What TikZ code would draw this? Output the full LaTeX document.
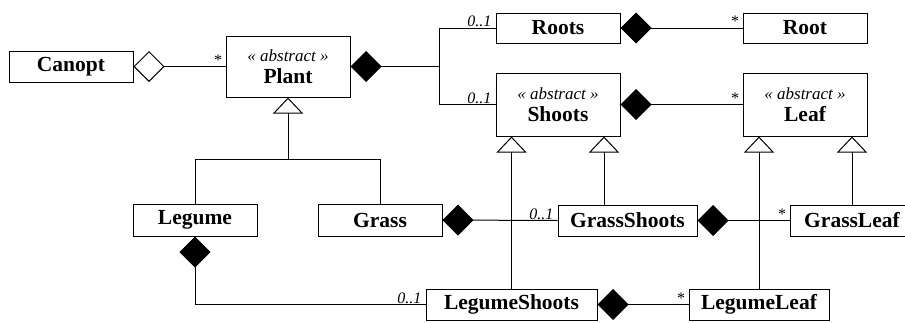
\documentclass[tikz,border=0pt]{standalone}
\usepackage{fontspec}
\setmainfont{Liberation Serif}
\usetikzlibrary{arrows.meta,calc}
\newcommand\clsname{\fontsize{21.5}{22}\selectfont\bfseries}
\newcommand\stereo{\fontsize{17}{20}\selectfont\itshape\mdseries}
\newcommand\multfont{\fontsize{16}{18}\selectfont\itshape}
\tikzset{
  cls/.style={draw, line width=1pt, inner sep=0pt, font=\clsname, align=center, fill=white},
  conn/.style={line width=1pt, line join=miter},
  comp/.style={conn, {Diamond[length=31pt, width=31pt]}-},
  aggr/.style={conn, {Diamond[open, fill=white, length=31pt, width=31pt]}-},
  gen/.style={conn, {Triangle[open, fill=white, length=16pt, width=30pt]}-},
  mult/.style={font=\multfont, inner sep=0pt, anchor=south east}
}
\begin{document}
\begin{tikzpicture}[x=1pt, y=-1pt]
\useasboundingbox (0,0) rectangle (905,322);
% classes
\node[cls, minimum width=124pt, minimum height=31pt] (Canopt) at (71,66.5) {Canopt};
\node[cls, minimum width=124pt, minimum height=61pt] (Plant) at (288,66.5) {{\stereo « abstract »}\\Plant};
\node[cls, minimum width=124pt, minimum height=30pt] (Roots) at (558,28) {Roots};
\node[cls, minimum width=124pt, minimum height=30pt] (Root) at (805,28) {Root};
\node[cls, minimum width=124pt, minimum height=63pt] (Shoots) at (558,104.5) {{\stereo « abstract »}\\Shoots};
\node[cls, minimum width=124pt, minimum height=63pt] (Leaf) at (805,104.5) {{\stereo « abstract »}\\Leaf};
\node[cls, minimum width=124pt, minimum height=32pt] (Legume) at (195,220) {Legume};
\node[cls, minimum width=124pt, minimum height=32pt] (Grass) at (380,220) {Grass};
\node[cls, minimum width=139pt, minimum height=31pt] (GrassShoots) at (627.5,220.5) {GrassShoots};
\node[cls, minimum width=124pt, minimum height=31pt] (GrassLeaf) at (852,220.5) {GrassLeaf};
\node[cls, minimum width=171pt, minimum height=31pt] (LegumeShoots) at (511.5,304.5) {LegumeShoots};
\node[cls, minimum width=140pt, minimum height=31pt] (LegumeLeaf) at (759,304.5) {LegumeLeaf};
% junctions
\coordinate (pj) at (288,159);
\coordinate (rj) at (439,66.5);
% aggregation Canopt - Plant
\draw[aggr] (Canopt.east) -- (Plant.west);
\node[mult] at ([xshift=-4pt,yshift=1pt]Plant.west) {*};
% composition Plant - Roots / Shoots
\draw[comp] (Plant.east) -- (rj);
\draw[conn] (rj) |- (Roots.west);
\draw[conn] (rj) |- (Shoots.west);
\node[mult] at ([xshift=-4pt,yshift=1pt]Roots.west) {0..1};
\node[mult] at ([xshift=-4pt,yshift=1pt]Shoots.west) {0..1};
% Roots - Root
\draw[comp] (Roots.east) -- (Root.west);
\node[mult] at ([xshift=-4pt,yshift=1pt]Root.west) {*};
% Shoots - Leaf
\draw[comp] (Shoots.east) -- (Leaf.west);
\node[mult] at ([xshift=-4pt,yshift=1pt]Leaf.west) {*};
% generalisation Plant
\draw[gen] (Plant.south) -- (pj);
\draw[conn] (pj) -| (Legume.north);
\draw[conn] (pj) -| (Grass.north);
% generalisation Shoots
\draw[gen] (LegumeShoots.north |- Shoots.south) -- (LegumeShoots.north);
\draw[gen] ([xshift=46pt]Shoots.south) -- ([xshift=46pt]Shoots.south |- GrassShoots.north);
% generalisation Leaf
\draw[gen] (LegumeLeaf.north |- Leaf.south) -- (LegumeLeaf.north);
\draw[gen] (GrassLeaf.north |- Leaf.south) -- (GrassLeaf.north);
% Grass - GrassShoots
\draw[comp] (Grass.east) -- (GrassShoots.west);
\node[mult] at ([xshift=-4pt,yshift=1pt]GrassShoots.west) {0..1};
% GrassShoots - GrassLeaf
\draw[comp] (GrassShoots.east) -- (GrassLeaf.west);
\node[mult] at ([xshift=-4pt,yshift=1pt]GrassLeaf.west) {*};
% Legume - LegumeShoots
\draw[comp] (Legume.south) |- (LegumeShoots.west);
\node[mult] at ([xshift=-4pt,yshift=1pt]LegumeShoots.west) {0..1};
% LegumeShoots - LegumeLeaf
\draw[comp] (LegumeShoots.east) -- (LegumeLeaf.west);
\node[mult] at ([xshift=-4pt,yshift=1pt]LegumeLeaf.west) {*};
\end{tikzpicture}
\end{document}
